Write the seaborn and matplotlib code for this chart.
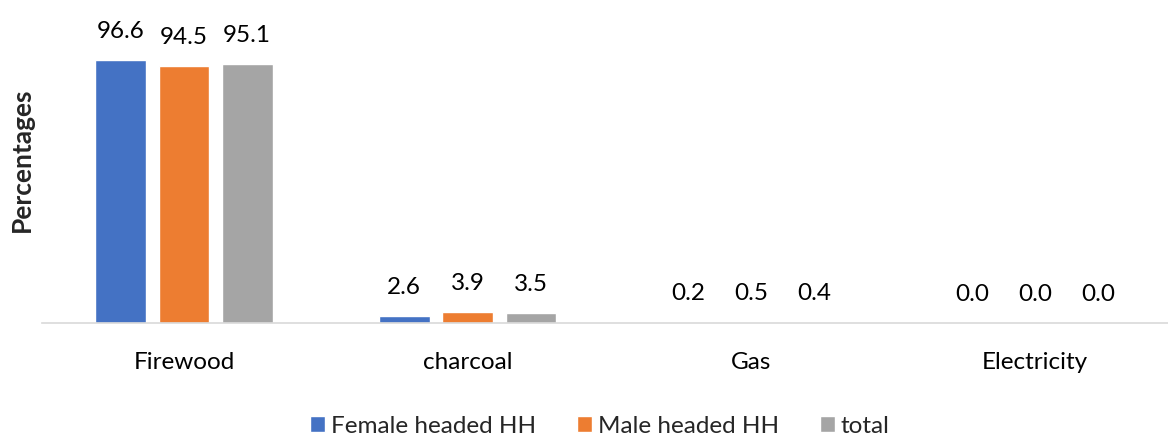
import matplotlib
matplotlib.use("Agg")
import matplotlib.pyplot as plt
import seaborn as sns
import pandas as pd

categories = ["Firewood", "charcoal", "Gas", "Electricity"]
series_names = ["Female headed HH", "Male headed HH", "total"]
female = [96.6, 2.6, 0.2, 0.0]
male = [94.5, 3.9, 0.5, 0.0]
total = [95.1, 3.5, 0.4, 0.0]
colors = ["#4472C4", "#ED7D31", "#A5A5A5"]

rows = []
for name, vals in zip(series_names, [female, male, total]):
    for c, v in zip(categories, vals):
        rows.append({"Fuel": c, "Group": name, "Value": v})
df = pd.DataFrame(rows)

sns.set_theme(style="white")
plt.rcParams["font.family"] = ["Lato", "DejaVu Sans"]

fig = plt.figure(figsize=(11.68, 4.36), dpi=100)
ax = fig.add_axes([42 / 1168, (436 - 323) / 436, 1135 / 1168, 272 / 436])

sns.barplot(data=df, x="Fuel", y="Value", hue="Group", order=categories,
            hue_order=series_names, palette=colors, width=0.67, gap=0.2,
            saturation=1, ax=ax, legend=True)

ax.set_ylim(0, 100)
ax.set_xlim(-0.5, 3.5)
ax.set_yticks([])
ax.set_xlabel("")
ax.set_ylabel("")
for s in ["top", "right", "left"]:
    ax.spines[s].set_visible(False)
ax.spines["bottom"].set_color("#D9D9D9")
ax.spines["bottom"].set_linewidth(1.2)
ax.tick_params(axis="x", length=0, pad=21, labelsize=17.5, labelcolor="#000000")

for cont in ax.containers:
    ax.bar_label(cont, fmt="%.1f", padding=13, fontsize=17.5, color="#000000")

fig.text(22 / 1168, (436 - 160) / 436, "Percentages", rotation=90,
         ha="center", va="center", fontsize=19, fontweight="bold")

handles, labels = ax.get_legend_handles_labels()
ax.legend_.remove()
fig.legend(handles, labels, loc="center", bbox_to_anchor=(600 / 1168, (436 - 426) / 436),
           ncol=3, frameon=False, fontsize=17.5, handlelength=0.6, handleheight=0.6,
           handletextpad=0.25, columnspacing=1.7)

fig.savefig("out.png", dpi=100)
